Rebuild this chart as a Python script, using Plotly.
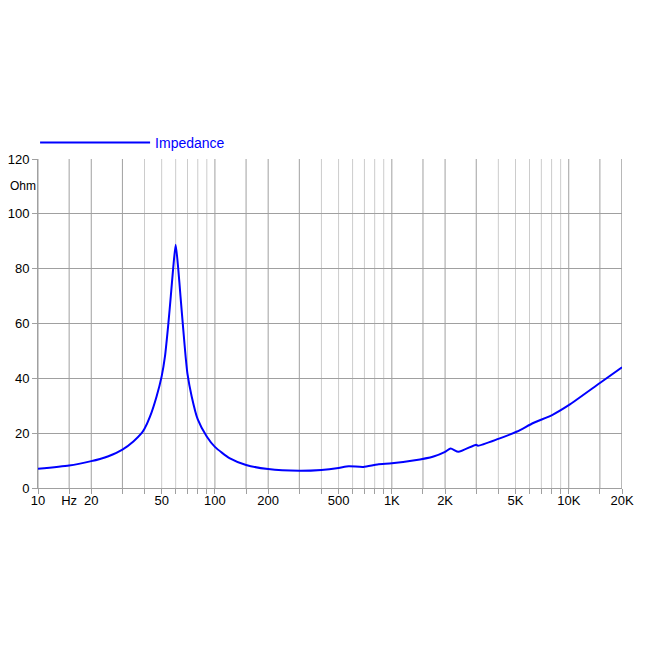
import numpy as np
import plotly.graph_objects as go

# impedance curve (Hz, Ohm)
freq = [10, 15, 20, 22.4, 25, 30, 34.6, 38.5, 40, 43, 46.8, 50, 52.2, 54.6,
        56.3, 58.1, 60, 62, 63.9, 66.3, 68.4, 70, 73.9, 80, 89.9, 100,
        121.6, 150, 200, 300, 400, 500, 570, 690, 830, 1000, 1320, 1720,
        2000, 2150, 2380, 3000, 3070, 4000, 5100, 6300, 8100, 10000, 15000,
        20000]
ohm = [7.0, 8.2, 9.8, 10.6, 11.6, 14.0, 17.0, 20.0, 21.6, 26.1, 33.4, 40.7,
       48.0, 60.2, 69.9, 80.2, 88.7, 80.2, 69.9, 57.5, 47.5, 41.5, 33.4,
       25.0, 18.8, 15.0, 10.8, 8.4, 6.9, 6.3, 6.6, 7.3, 7.9, 7.7, 8.6, 9.0,
       10.0, 11.5, 13.2, 14.4, 13.2, 15.8, 15.4, 17.9, 20.6, 23.7, 26.7,
       30.2, 38.3, 44.0]

x_labels = [10, 15, 20, 50, 100, 200, 500, 1000, 2000, 5000, 10000, 20000]
x_text = ["10", "Hz", "20", "50", "100", "200", "500", "1K", "2K", "5K", "10K", "20K"]

decades = [10, 100, 1000, 10000]
major_grid = [d * m for d in decades for m in (1, 1.5, 2, 3)] + [20000]
minor_grid = [d * m for d in decades for m in (4, 5, 6, 7, 8, 9) if d * m < 20000]

FONT = "Liberation Sans, Arial, sans-serif"

fig = go.Figure()
fig.add_trace(go.Scatter(
    x=freq, y=ohm, mode="lines", name="Impedance",
    line=dict(color="#0000ff", width=2, shape="spline", smoothing=0.6),
))

fig.update_layout(
    width=650, height=650,
    paper_bgcolor="white", plot_bgcolor="white",
    margin=dict(l=30, r=36, t=151, b=170),
    font=dict(family=FONT, size=13, color="black"),
    showlegend=True,
    legend=dict(
        orientation="h", x=-0.005, y=1.0, xanchor="left", yanchor="bottom",
        itemwidth=110, font=dict(color="#0000ff", size=14, family=FONT),
        bgcolor="rgba(0,0,0,0)", itemclick=False,
    ),
    xaxis=dict(
        type="log", range=[1, np.log10(20000)], automargin=False,
        tickmode="array", tickvals=x_labels, ticktext=x_text,
        showgrid=False, ticks="", zeroline=False,
        showline=True, linecolor="#a0a0a0", linewidth=1,
        minor=dict(tickmode="array", tickvals=major_grid + minor_grid,
                   showgrid=False, ticks="outside", ticklen=5,
                   tickcolor="#a0a0a0"),
        tickfont=dict(size=13),
    ),
    yaxis=dict(
        range=[0, 120], dtick=20, tick0=0, automargin=False,
        showgrid=True, gridcolor="#a0a0a0", gridwidth=1,
        ticks="outside", ticklen=5, tickcolor="#a0a0a0",
        showline=True, linecolor="#a0a0a0", zeroline=False,
        tickfont=dict(size=13),
    ),
)

# vertical grid lines, darker for 1/1.5/2/3 and lighter for the rest
for f in major_grid:
    fig.add_vline(x=f, line=dict(color="#a0a0a0", width=1), layer="below")
for f in minor_grid:
    fig.add_vline(x=f, line=dict(color="#cccccc", width=1), layer="below")

fig.add_annotation(
    text="Ohm", xref="paper", yref="y", x=-0.0514, y=110,
    xanchor="left", yanchor="middle", showarrow=False, font=dict(size=12),
)

fig.write_html("out.html")
